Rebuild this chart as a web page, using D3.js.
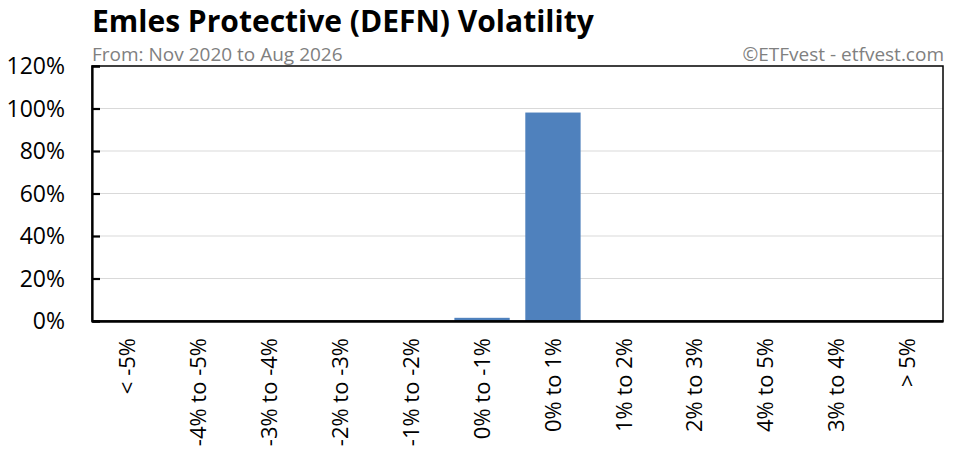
<!DOCTYPE html>
<html>
<head>
<meta charset="utf-8">
<script src="https://cdn.jsdelivr.net/npm/d3@7"></script>
<style>
  body { margin: 0; background: #fff; }
  svg { display: block; font-family: "Open Sans", sans-serif; }
</style>
</head>
<body>
<svg id="chart"></svg>
<script>
// volatility buckets, as labelled on the chart
var categories = ['< -5%', '-4% to -5%', '-3% to -4%', '-2% to -3%', '-1% to -2%', '0% to -1%',
                  '0% to 1%', '1% to 2%', '2% to 3%', '4% to 5%', '3% to 4%', '> 5%']
var values = [0, 0, 0, 0, 0, 1.5, 98.1, 0, 0, 0, 0, 0]
var yTicks = [0, 20, 40, 60, 80, 100, 120]

var w = 965
  , h = 471
  , m = {top: 66, right: 22, bottom: 150, left: 92}
  , font = '"Open Sans", sans-serif'
  , svg = d3.select('#chart').attr('width', w).attr('height', h)

var x = d3.scaleBand().domain(categories).range([m.left, w - m.right]).paddingInner(0.22).paddingOuter(0.11)
var y = d3.scaleLinear().domain([0, 120]).range([h - m.bottom, m.top])

// gridlines
svg.append('g').selectAll('line').data(yTicks.slice(1, -1))
  .enter().append('line')
    .attr('x1', m.left).attr('x2', w - m.right)
    .attr('y1', function(d){ return y(d) }).attr('y2', function(d){ return y(d) })
    .attr('stroke', '#d9d9d9').attr('stroke-width', 1.2)

// bars
svg.append('g').selectAll('rect').data(values)
  .enter().append('rect')
    .attr('x', function(d, i){ return x(categories[i]) })
    .attr('width', x.bandwidth())
    .attr('y', function(d){ return y(d) })
    .attr('height', function(d){ return y(0) - y(d) })
    .attr('fill', '#4f81bd')

// frame
svg.append('rect')
  .attr('x', m.left).attr('y', m.top)
  .attr('width', w - m.right - m.left).attr('height', h - m.bottom - m.top)
  .attr('fill', 'none').attr('stroke', '#000').attr('stroke-width', 1.5)

var yAxis = svg.append('g')
  .attr('transform', 'translate(' + m.left + ',0)')
  .call(d3.axisRight(y).tickValues(yTicks).tickSize(8).tickFormat(function(d){ return '' }))
yAxis.select('.domain').attr('stroke-width', 2.2)
yAxis.selectAll('.tick line').attr('stroke-width', 2.2)

svg.append('g').selectAll('text').data(yTicks)
  .enter().append('text')
    .attr('x', 65).attr('y', function(d){ return y(d) + 8 })
    .attr('text-anchor', 'end').attr('font-size', 23).attr('fill', '#000')
    .text(function(d){ return d + '%' })

var xAxis = svg.append('g')
  .attr('transform', 'translate(0,' + y(0) + ')')
  .call(d3.axisBottom(x).tickSize(0).tickPadding(0))
xAxis.select('.domain').attr('stroke-width', 2.5)
xAxis.selectAll('.tick text')
  .attr('font-size', 22).attr('fill', '#000')
  .attr('text-anchor', 'end')
  .attr('transform', 'rotate(-90)')
  .attr('x', -17).attr('y', 0).attr('dy', '0.35em')
  .style('font-family', font)

// titles
svg.append('text').attr('x', 92).attr('y', 31.5)
  .attr('font-size', 30).attr('font-weight', 'bold').attr('fill', '#000')
  .text('Emles Protective (DEFN) Volatility')
svg.append('text').attr('x', 92).attr('y', 60.5)
  .attr('font-size', 19).attr('fill', '#808080')
  .text('From: Nov 2020 to Aug 2026')
svg.append('text').attr('x', 944).attr('y', 60.5).attr('text-anchor', 'end')
  .attr('font-size', 19).attr('fill', '#808080')
  .text('\u00A9ETFvest - etfvest.com')
</script>
</body>
</html>
